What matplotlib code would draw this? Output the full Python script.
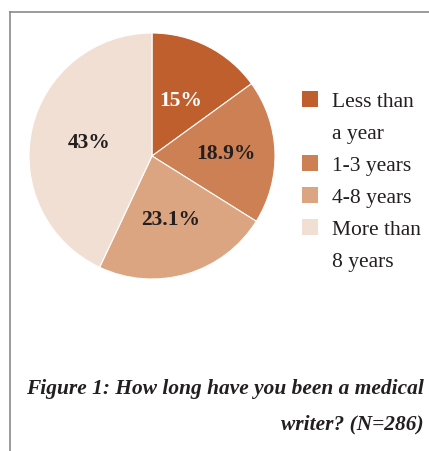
import matplotlib.pyplot as plt
from matplotlib.patches import Rectangle
from matplotlib.lines import Line2D
import numpy as np

# Data
categories = ['Less than\na year', '1-3 years', '4-8 years', 'More than\n8 years']
values = [15, 18.9, 23.1, 43]
colors = ['#C05F2E', '#CC8054', '#DCA581', '#F2DFD3']
label_colors = ['white', '#231F20', '#231F20', '#231F20']
label_dist = [0.51, 0.60, 0.53, 0.52]

W, H = 429, 452
plt.rcParams['font.family'] = ['Liberation Serif', 'DejaVu Serif']
fig = plt.figure(figsize=(W / 100, H / 100), dpi=100)


def fx(x):
    return x / W


def fy(y):
    return 1 - y / H


# frame lines (top and left)
fig.add_artist(Line2D([fx(9.5), 1], [fy(12.5), fy(12.5)], color='#8a8a8a', lw=1.2))
fig.add_artist(Line2D([fx(9.5), fx(9.5)], [fy(12.5), 0], color='#8a8a8a', lw=1.2))

# pie
cx, cy, r = 152, 157, 123
ax = fig.add_axes([fx(cx - r), fy(cy + r), 2 * r / W, 2 * r / H])
wedges, _ = ax.pie(values, colors=colors, startangle=90, counterclock=False,
                   wedgeprops=dict(edgecolor='white', linewidth=0.8))
ax.set_xlim(-1, 1)
ax.set_ylim(-1, 1)

for w, v, c, d in zip(wedges, values, label_colors, label_dist):
    ang = np.deg2rad((w.theta1 + w.theta2) / 2)
    ax.text(d * np.cos(ang), d * np.sin(ang), f'{v:g}%', color=c,
            fontsize=15.5, fontweight='bold', ha='center', va='center')

# legend
row = 0
for cat, col in zip(categories, colors):
    yc = 100 + row * 32
    fig.add_artist(Rectangle((fx(302), fy(yc + 8)), 16 / W, 16 / H,
                             facecolor=col, edgecolor='none'))
    for line in cat.split('\n'):
        yc = 100 + row * 32
        fig.text(fx(332), fy(yc), line, fontsize=15.5, color='#231F20',
                 ha='left', va='center_baseline')
        row += 1

# caption
fig.text(fx(424), fy(394), 'Figure 1: How long have you been a medical',
         fontsize=15.4, fontweight='bold', style='italic', color='#231F20',
         ha='right', va='baseline')
fig.text(fx(424), fy(429), 'writer? (N=286)',
         fontsize=15.4, fontweight='bold', style='italic', color='#231F20',
         ha='right', va='baseline')

fig.savefig('out.png', dpi=100)
